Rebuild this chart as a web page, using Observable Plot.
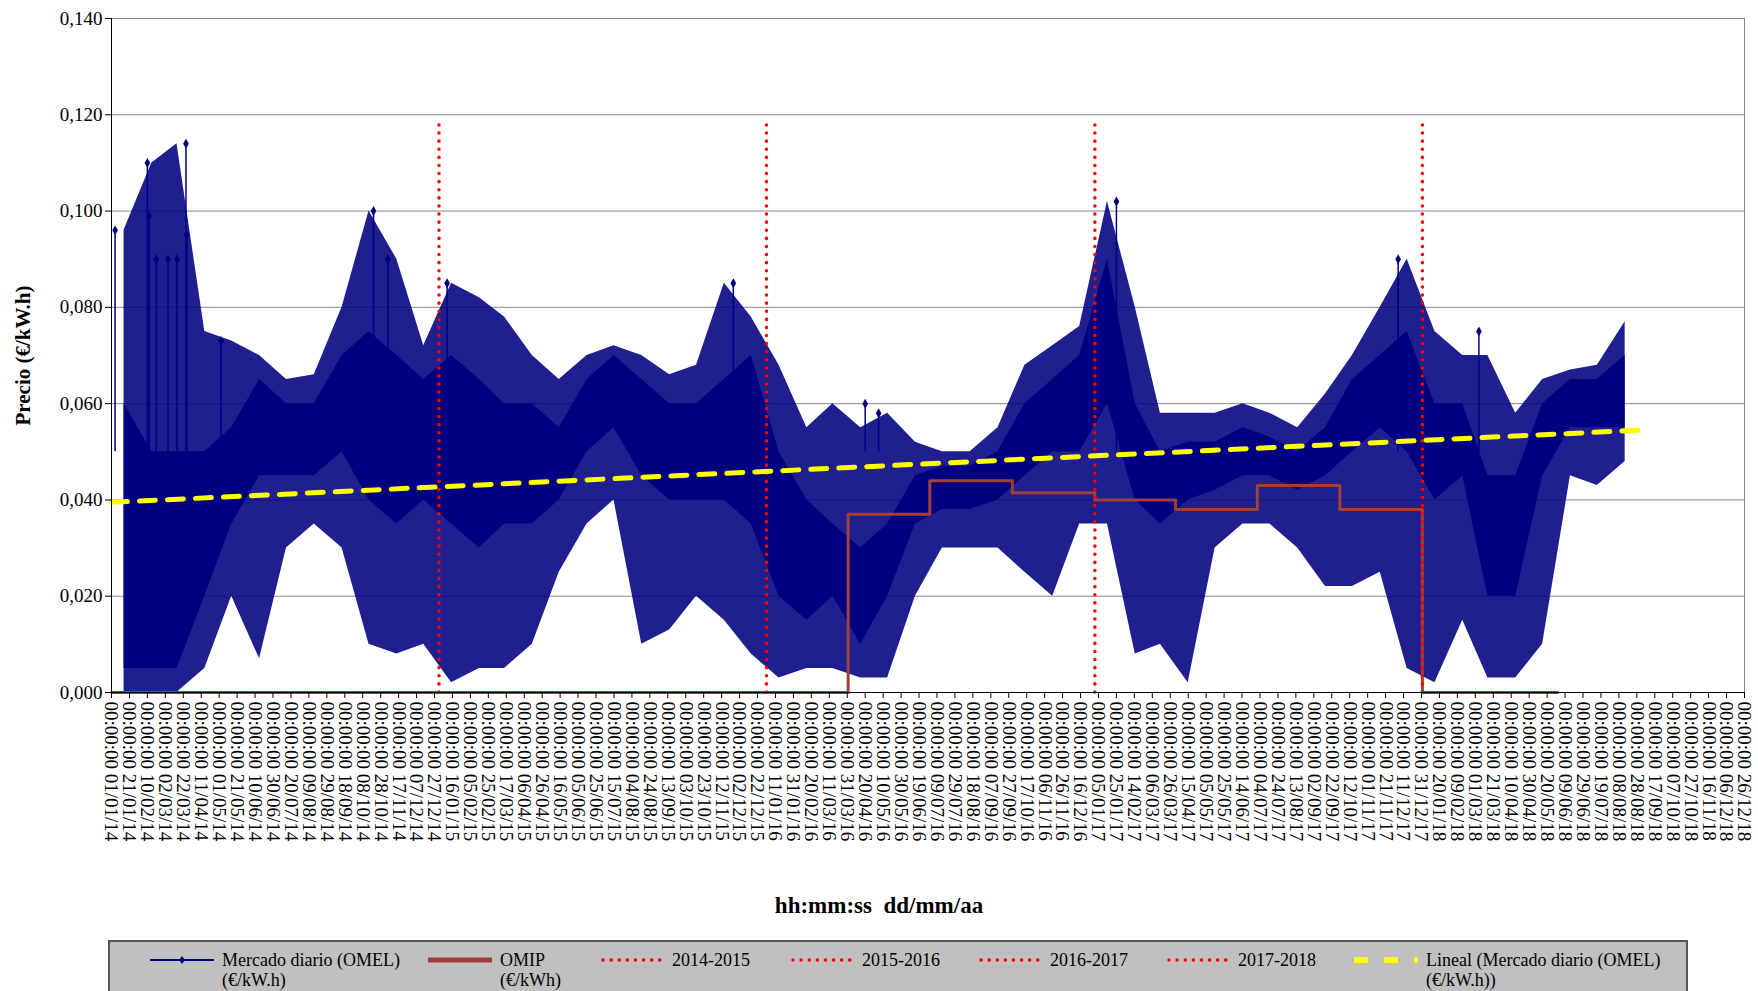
<!DOCTYPE html>
<html><head><meta charset="utf-8">
<script src="https://cdn.jsdelivr.net/npm/d3@7"></script>
<script src="https://cdn.jsdelivr.net/npm/@observablehq/plot@0.6"></script>
<style>
body{margin:0;background:#fff;font-family:"Liberation Serif",serif;}
#wrap{position:relative;width:1758px;height:991px;overflow:hidden;}
#xt{position:absolute;left:0;width:1758px;top:893px;text-align:center;font-weight:bold;font-size:23px;}
#leg{position:absolute;left:108px;top:940px;width:1580px;height:70px;background:#c0c0c0;border:2px solid #555;box-sizing:border-box;font-size:18px;}
.it{position:absolute;top:8px;display:flex;align-items:flex-start;line-height:20px;}
.it svg{margin-right:4px;margin-top:3px;}
</style></head><body>
<div id="wrap"><div id="chart"></div><div id="xt">hh:mm:ss&nbsp; dd/mm/aa</div><div id="leg"></div></div>
<script>
// Monthly extremes and dense core of the daily market price (Jan 2014 - Aug 2018)
const months = d3.range(56).map(m => new Date(2014, m, 15));
const maxV = [0.096,0.110,0.114,0.075,0.073,0.070,0.065,0.066,0.080,0.100,0.090,0.072,
              0.085,0.082,0.078,0.070,0.065,0.070,0.072,0.070,0.066,0.068,0.085,0.078,
              0.068,0.055,0.060,0.055,0.058,0.052,0.050,0.050,0.055,0.068,0.072,0.076,
              0.102,0.080,0.058,0.058,0.058,0.060,0.058,0.055,0.062,0.070,0.080,0.090,
              0.075,0.070,0.070,0.058,0.065,0.067,0.068,0.077];
const minV = [0.000,0.000,0.000,0.005,0.020,0.007,0.030,0.035,0.030,0.010,0.008,0.010,
              0.002,0.005,0.005,0.010,0.025,0.035,0.040,0.010,0.013,0.020,0.015,0.008,
              0.003,0.005,0.005,0.003,0.003,0.020,0.030,0.030,0.030,0.025,0.020,0.035,
              0.035,0.008,0.010,0.002,0.030,0.035,0.035,0.030,0.022,0.022,0.025,0.005,
              0.002,0.015,0.003,0.003,0.010,0.045,0.043,0.048];
const coreLo = [0.005,0.005,0.005,0.020,0.035,0.045,0.045,0.045,0.050,0.040,0.035,0.040,
                0.035,0.030,0.035,0.035,0.040,0.050,0.055,0.045,0.040,0.040,0.040,0.035,
                0.020,0.015,0.020,0.010,0.020,0.035,0.038,0.038,0.040,0.045,0.050,0.050,
                0.060,0.040,0.035,0.040,0.042,0.045,0.045,0.042,0.045,0.050,0.055,0.050,
                0.040,0.045,0.020,0.020,0.045,0.055,0.055,0.055];
const coreHi = [0.060,0.050,0.050,0.050,0.055,0.065,0.060,0.060,0.070,0.075,0.070,0.065,
                0.070,0.065,0.060,0.060,0.055,0.065,0.070,0.065,0.060,0.060,0.065,0.070,
                0.050,0.040,0.035,0.030,0.035,0.045,0.047,0.047,0.050,0.060,0.065,0.070,
                0.090,0.060,0.050,0.052,0.052,0.055,0.053,0.050,0.055,0.065,0.070,0.075,
                0.060,0.060,0.045,0.045,0.060,0.065,0.065,0.070];
const spikeDates = ["2014-01-05","2014-02-10","2014-02-12","2014-02-20","2014-03-05","2014-03-15","2014-03-25","2014-03-26","2014-05-03","2014-10-20","2014-11-05","2015-01-10","2015-11-25","2016-04-20","2016-05-05","2017-01-25","2017-12-05","2018-03-05"];
const spikeVals  = [0.096,0.110,0.099,0.090,0.090,0.090,0.114,0.095,0.073,0.100,0.090,0.085,0.085,0.060,0.058,0.102,0.090,0.075];
// OMIP steps
const omipDates = ["2014-01-01","2016-04-01","2016-07-01","2016-10-01","2017-01-01","2017-04-01","2017-07-01","2017-10-01","2018-01-01","2018-06-01"];
const omipVals  = [0.000,0.037,0.044,0.0415,0.040,0.038,0.043,0.038,0.000,0.000];
// season separators
const seasonDates = ["2015-01-01","2016-01-01","2017-01-01","2018-01-01"];
// linear trend endpoints
const trendDates = ["2014-01-01","2018-09-01"];
const trendVals = [0.0395,0.0545];
const yTicks = [0,0.02,0.04,0.06,0.08,0.10,0.12,0.14];

const P = s => new Date(s + "T00:00:00");
const mdata = months.map((d,i)=>({d,lo:minV[i],hi:maxV[i],cl:coreLo[i],ch:coreHi[i]}));
const spikes = spikeDates.map((s,i)=>({d:P(s),v:spikeVals[i]}));
const omip = omipDates.map((s,i)=>({d:P(s),v:omipVals[i]}));
const seasons = seasonDates.map(P);
const trend = trendDates.map((s,i)=>({d:P(s),v:trendVals[i]}));
const x0 = P("2014-01-01"), x1 = P("2018-12-26");
const xTicks = d3.range(92).map(i => d3.timeDay.offset(x0, i*20));
const fmtD = d3.timeFormat("%d/%m/%y");
const navy = "#000080";
const yFmt = d=>d3.format(".3f")(d).replace(".",",");

const chart = Plot.plot({
  width:1758, height:860, marginLeft:111, marginRight:14, marginTop:18, marginBottom:168,
  style:{fontFamily:"Liberation Serif, serif", fontSize:"15px", color:"#000"},
  x:{type:"time", domain:[x0,x1], label:null},
  y:{domain:[0,0.14], label:null},
  marks:[
    Plot.gridY(yTicks,{stroke:"#888", strokeOpacity:1}),
    Plot.areaY(mdata,{x:"d", y1:"lo", y2:"hi", fill:navy, fillOpacity:0.88}),
    Plot.areaY(mdata,{x:"d", y1:"cl", y2:"ch", fill:navy}),
    Plot.ruleX(spikes,{x:"d", y1:0.05, y2:"v", stroke:navy, strokeWidth:1.5}),
    Plot.dot(spikes,{x:"d", y:"v", symbol:"diamond", r:3, fill:navy}),
    Plot.line(omip,{x:"d", y:"v", curve:"step-after", stroke:"#a0403a", strokeWidth:3}),
    Plot.ruleX(seasons,{y1:0, y2:0.1185, stroke:"red", strokeWidth:3.5, strokeDasharray:"0.1,8", strokeLinecap:"round"}),
    Plot.line(trend,{x:"d", y:"v", stroke:"#ffff00", strokeWidth:5, strokeDasharray:"16,12"}),
    Plot.ruleX([x1],{stroke:"#888"}),
    Plot.axisY({ticks:yTicks, tickFormat:yFmt, fontSize:19, label:null, tickSize:6}),
    Plot.axisX({ticks:xTicks, tickFormat:d=>"00:00:00 "+fmtD(d), tickRotate:90, fontSize:19, label:null, tickSize:6}),
    Plot.ruleY([0],{stroke:"#000"}),
    Plot.ruleX([x0],{stroke:"#000"}),
    Plot.text(["Precio (€/kW.h)"],{frameAnchor:"left", dx:-88, rotate:-90, textAnchor:"middle", fontWeight:"bold", fontSize:21})
  ]
});
document.getElementById("chart").appendChild(chart);

const dots = '<line x1="3" y1="7" x2="62" y2="7" stroke="red" stroke-width="3.5" stroke-dasharray="0.1,8" stroke-linecap="round"/>';
const items = [
 {x:40, t:"Mercado diario (OMEL)<br>(€/kW.h)", sw:'<line x1="0" y1="7" x2="64" y2="7" stroke="#000080" stroke-width="2"/><path d="M32 3 L35 7 L32 11 L29 7Z" fill="#000080"/>'},
 {x:318, t:"OMIP<br>(€/kWh)", sw:'<line x1="0" y1="7" x2="64" y2="7" stroke="#a0403a" stroke-width="5"/>'},
 {x:490, t:"2014-2015", sw:dots},
 {x:680, t:"2015-2016", sw:dots},
 {x:868, t:"2016-2017", sw:dots},
 {x:1056, t:"2017-2018", sw:dots},
 {x:1244, t:"Lineal (Mercado diario (OMEL)<br>(€/kW.h))", sw:'<line x1="0" y1="7" x2="64" y2="7" stroke="#ffff00" stroke-width="6" stroke-dasharray="14,16"/>'}
];
const leg = document.getElementById("leg");
items.forEach(it=>{
  const d=document.createElement("div"); d.className="it"; d.style.left=it.x+"px";
  d.innerHTML='<svg width="68" height="14">'+it.sw+'</svg><span>'+it.t+'</span>';
  leg.appendChild(d);
});
</script></body></html>
